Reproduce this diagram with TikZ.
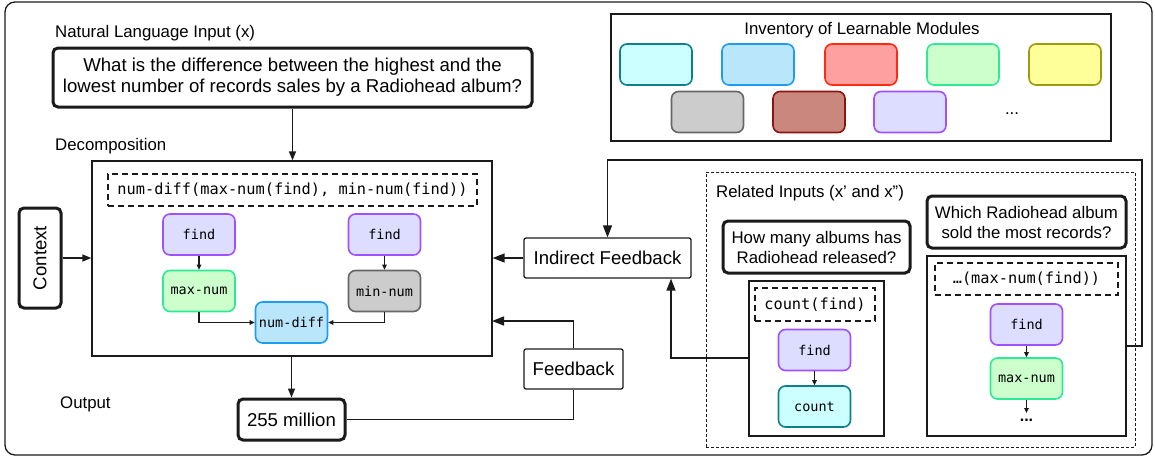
\documentclass[tikz,border=0pt]{standalone}
\usepackage{fontspec}
\usepackage{graphicx}
\setmainfont{Liberation Sans}
\newfontfamily\monof{DejaVu Sans Mono}
\usetikzlibrary{arrows.meta}

\definecolor{cyanF}{HTML}{CCFFFF}\definecolor{cyanD}{HTML}{0E8088}
\definecolor{blueF}{HTML}{BAE6FC}\definecolor{blueD}{HTML}{1E9CF0}
\definecolor{redF}{HTML}{FFA0A0}\definecolor{redD}{HTML}{FF2A10}
\definecolor{greenF}{HTML}{CCFFCC}\definecolor{greenD}{HTML}{2EEA96}
\definecolor{yelF}{HTML}{FFFF99}\definecolor{yelD}{HTML}{9E9A10}
\definecolor{grayF}{HTML}{CCCCCC}\definecolor{grayD}{HTML}{666666}
\definecolor{brownF}{HTML}{C9877E}\definecolor{brownD}{HTML}{8E1410}
\definecolor{lavF}{HTML}{DDDDFF}\definecolor{lavD}{HTML}{A150FF}
\definecolor{ink}{HTML}{1A1A1A}

\tikzset{
  mod/.style={draw, rounded corners=7pt, line width=1.6pt, minimum width=72pt, minimum height=41pt, inner sep=0pt, font=\monof\fontsize{13.5}{14}\selectfont},
  modL/.style={mod, fill=lavF, draw=lavD},
  modG/.style={mod, fill=greenF, draw=greenD},
  modGr/.style={mod, fill=grayF, draw=grayD},
  modB/.style={mod, fill=blueF, draw=blueD},
  modC/.style={mod, fill=cyanF, draw=cyanD},
  modR/.style={mod, fill=redF, draw=redD},
  modY/.style={mod, fill=yelF, draw=yelD},
  modBr/.style={mod, fill=brownF, draw=brownD},
  thickbox/.style={draw=ink, line width=3pt, rounded corners=5pt, align=center, inner sep=0pt, font=\fontsize{18.6}{21}\selectfont},
  thinbox/.style={draw=ink, line width=1.3pt, inner sep=0pt, font=\fontsize{18.6}{21}\selectfont},
  dbox/.style={draw=ink, line width=1.4pt, dash pattern=on 6pt off 4pt, inner sep=0pt, font=\monof\fontsize{15.3}{17}\selectfont},
  lab/.style={font=\fontsize{16.8}{20}\selectfont, anchor=west, inner sep=0pt},
  conn/.style={line width=1.4pt, draw=ink},
  arrM/.style={conn, -{Triangle[length=9pt,width=7pt]}},
  arrL/.style={conn, -{Triangle[length=12pt,width=9pt]}},
  arrS/.style={line width=1.1pt, draw=ink, -{Triangle[length=5pt,width=4.5pt]}},
}

\begin{document}
\begin{tikzpicture}[x=1pt,y=-1pt]
\useasboundingbox (0,0) rectangle (1155,458);

% outer frame
\node[draw=ink, rounded corners=10pt, line width=1.3pt, minimum width=1147pt, minimum height=453pt, inner sep=0pt] (frame) at (578.5,228.5) {};

% left part
\node[lab] (lblNL) at (55,33) {Natural Language Input (x)};
\node[thickbox, minimum width=479pt, minimum height=59pt] (q) at (292.5,77.5)
  {What is the difference between the highest and the\\lowest number of records sales by a Radiohead album?};
\node[lab] (lblDec) at (55,146) {Decomposition};
\node[thinbox, minimum width=400pt, minimum height=195pt] (dec) at (292,258.5) {};
\node[dbox, minimum width=369pt, minimum height=32pt] (decf) at (292.5,190) {num-diff(max-num(find), min-num(find))};
\node[modL] (findL) at (199,234.5) {find};
\node[modL] (findR) at (384.5,234.5) {find};
\node[modG] (maxnum) at (199,291) {max-num};
\node[modGr] (minnum) at (384.5,291) {min-num};
\node[modB] (numdiff) at (291.5,322.5) {num-diff};

\node[thickbox, minimum width=42pt, minimum height=100pt] (ctx) at (40,258) {\rotatebox{90}{Context}};

\node[lab] (lblOut) at (60,404) {Output};
\node[thickbox, minimum width=107pt, minimum height=41pt] (out) at (291.5,419.5) {255 million};

\node[thinbox, rounded corners=2pt, minimum width=167pt, minimum height=40pt] (ind) at (607.5,258) {Indirect Feedback};
\node[thinbox, rounded corners=2pt, minimum width=99pt, minimum height=40pt] (fb) at (573.5,369) {Feedback};

% inventory
\node[thinbox, minimum width=500pt, minimum height=127pt] (inv) at (861,77.5) {};
\node[font=\fontsize{16.8}{20}\selectfont, inner sep=0pt] (invT) at (862,30) {Inventory of Learnable Modules};
\node[modC] (i1) at (656,64.5) {};
\node[modB] (i2) at (758,64.5) {};
\node[modR] (i3) at (861,64.5) {};
\node[modG] (i4) at (963,64.5) {};
\node[modY] (i5) at (1065,64.5) {};
\node[modGr] (i6) at (707.5,112) {};
\node[modBr] (i7) at (809,112) {};
\node[modL] (i8) at (910,112) {};
\node[font=\fontsize{16.8}{20}\selectfont, inner sep=0pt] (idots) at (1012,114) {...};

% related inputs
\node[draw=ink, line width=1pt, dash pattern=on 3pt off 2pt, minimum width=429pt, minimum height=275pt, inner sep=0pt] (rel) at (920.5,309.5) {};
\node[lab] (lblRel) at (716,193) {Related Inputs (x’ and x”)};
\node[thickbox, font=\fontsize{16.8}{20}\selectfont, minimum width=187pt, minimum height=52pt] (qa) at (816.5,247) {How many albums has\\Radiohead released?};
\node[thickbox, font=\fontsize{16.8}{20}\selectfont, minimum width=199pt, minimum height=52pt] (qb) at (1026.5,222) {Which Radiohead album\\sold the most records?};
\node[thinbox, minimum width=135pt, minimum height=155pt] (boxA) at (816.5,358.5) {};
\node[thinbox, minimum width=199pt, minimum height=180pt] (boxB) at (1026.5,346) {};
\node[dbox, minimum width=120pt, minimum height=33pt] (countf) at (815,304.5) {count(find)};
\node[dbox, minimum width=183pt, minimum height=32pt] (bf) at (1026.5,279) {…(max-num(find))};
\node[modL] (findA) at (814.5,350) {find};
\node[modC] (countA) at (814.5,406.5) {count};
\node[modL] (findB) at (1026.5,324.5) {find};
\node[modG] (maxB) at (1026.5,378.5) {max-num};
\node[font=\bfseries\fontsize{16}{18}\selectfont, inner sep=0pt] (dotsB) at (1026.5,420) {...};
\coordinate (dotsTop) at (1026.5,413);

% connectors
\draw[arrM] (q.south) -- (q.south |- dec.north);
\draw[arrM] (ctx.east) -- (ctx.east -| dec.west);
\draw[arrS] (findL) -- (maxnum);
\draw[arrS] (findR) -- (minnum);
\draw[arrS] (maxnum.south) |- (numdiff.west);
\draw[arrS] (minnum.south) |- (numdiff.east);
\draw[arrM] (out.north |- dec.south) -- (out.north);
\draw[conn] (out.east) -| (fb.south);
\coordinate (fbIn) at (492,321);
\draw[arrL] (fb.north) |- (fbIn);
\draw[arrL] (ind.west) -- (ind.west -| dec.east);
\coordinate (c1) at (1142,346);
\coordinate (c2) at (1142,160);
\draw[arrL] (boxB.east |- c1) -- (c1) -- (c2) -| (ind.north);
\coordinate (c3) at (671,358);
\draw[arrL] (boxA.west |- c3) -- (c3) -- (c3 |- ind.south);
\draw[arrS] (findA) -- (countA);
\draw[arrS] (findB) -- (maxB);
\draw[arrS] (maxB.south) -- (dotsTop);
\end{tikzpicture}
\end{document}
